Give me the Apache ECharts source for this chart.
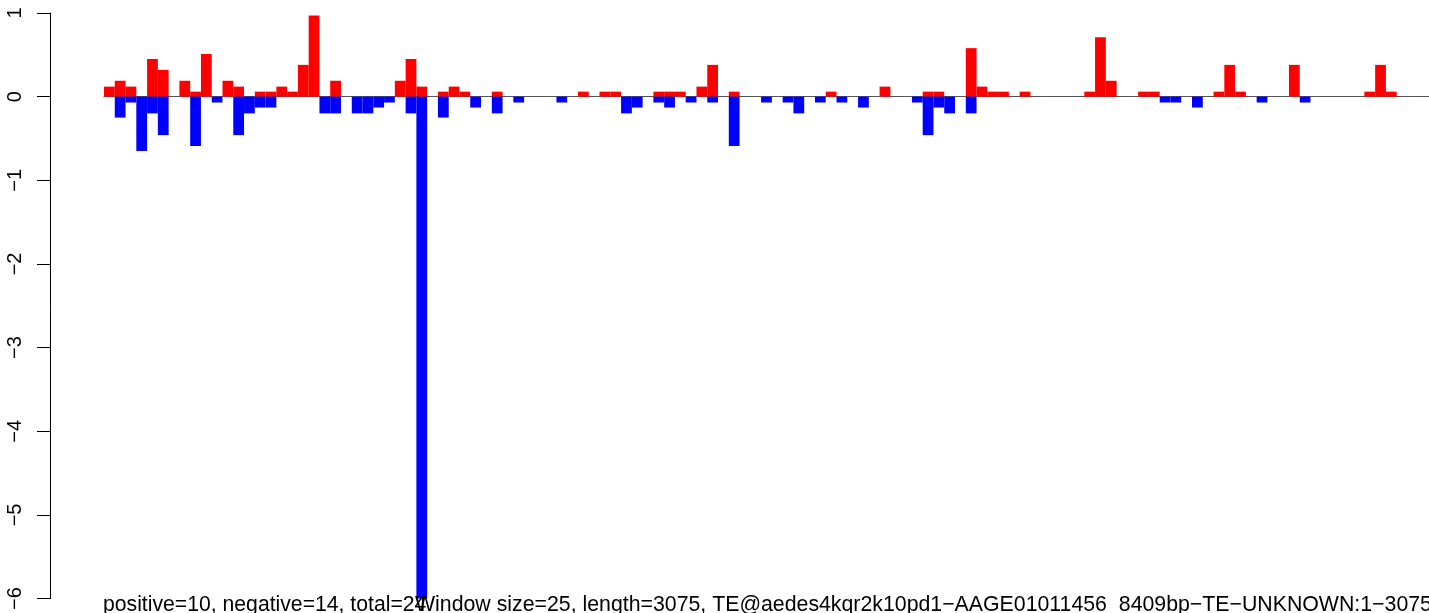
<!DOCTYPE html>
<html>
<head>
<meta charset="utf-8">
<script src="https://cdn.jsdelivr.net/npm/echarts@6/dist/echarts.min.js"></script>
<style>
html,body{margin:0;padding:0;background:#fff;}
#chart{width:1429px;height:613px;}
</style>
</head>
<body>
<div id="chart"></div>
<script>
// 123 windows of 25 bp over a 3075 bp sequence
const windows = Array.from({length: 123}, (_, i) => String(i + 1));

const positive = [
  0.12, 0.19, 0.12, 0, 0.45, 0.32, 0, 0.19, 0.06, 0.51,
  0, 0.19, 0.12, 0, 0.06, 0.06, 0.12, 0.06, 0.38, 0.97,
  0, 0.19, 0, 0, 0, 0, 0, 0.19, 0.45, 0.12,
  0, 0.06, 0.12, 0.06, 0, 0, 0.06, 0, 0, 0,
  0, 0, 0, 0, 0.06, 0, 0.06, 0.06, 0, 0,
  0, 0.06, 0.06, 0.06, 0, 0.12, 0.38, 0, 0.06, 0,
  0, 0, 0, 0, 0, 0, 0, 0.06, 0, 0,
  0, 0, 0.12, 0, 0, 0, 0.06, 0.06, 0, 0,
  0.58, 0.12, 0.06, 0.06, 0, 0.06, 0, 0, 0, 0,
  0, 0.06, 0.71, 0.19, 0, 0, 0.06, 0.06, 0, 0,
  0, 0, 0, 0.06, 0.38, 0.06, 0, 0, 0, 0,
  0.38, 0, 0, 0, 0, 0, 0, 0.06, 0.38, 0.06,
  0, 0, 0
];

const negative = [
  0, -0.25, -0.07, -0.65, -0.2, -0.46, 0, 0, -0.59, 0,
  -0.07, 0, -0.46, -0.2, -0.13, -0.13, 0, 0, 0, 0,
  -0.2, -0.2, 0, -0.2, -0.2, -0.13, -0.07, 0, -0.2, -6,
  0, -0.25, 0, 0, -0.13, 0, -0.2, 0, -0.07, 0,
  0, 0, -0.07, 0, 0, 0, 0, 0, -0.2, -0.13,
  0, -0.07, -0.13, 0, -0.07, 0, -0.07, 0, -0.59, 0,
  0, -0.07, 0, -0.07, -0.2, 0, -0.07, 0, -0.07, 0,
  -0.13, 0, 0, 0, 0, -0.07, -0.46, -0.13, -0.2, 0,
  -0.2, 0, 0, 0, 0, 0, 0, 0, 0, 0,
  0, 0, 0, 0, 0, 0, 0, 0, -0.07, -0.07,
  0, -0.13, 0, 0, 0, 0, 0, -0.07, 0, 0,
  0, -0.07, 0, 0, 0, 0, 0, 0, 0, 0,
  0, 0, 0
];

const yTicks = [-6, -5, -4, -3, -2, -1, 0, 1];
const captionLeft = 'positive=10, negative=14, total=24';
const captionRight = 'Window size=25, length=3075, TE@aedes4kqr2k10pd1\u2212AAGE01011456_8409bp\u2212TE\u2212UNKNOWN:1\u22123075';

const FONT = '"Liberation Sans", Arial, Helvetica, sans-serif';
const chart = echarts.init(document.getElementById('chart'), null, {renderer: 'canvas'});

chart.setOption({
  animation: false,
  backgroundColor: '#ffffff',
  grid: {left: 104, right: 0, top: 13, bottom: 12, containLabel: false},
  xAxis: {
    type: 'category',
    data: windows,
    boundaryGap: true,
    axisLine: {show: true, onZero: true, lineStyle: {color: '#555555', width: 1}},
    axisTick: {show: false},
    axisLabel: {show: false},
    splitLine: {show: false}
  },
  yAxis: {
    type: 'value',
    min: yTicks[0],
    max: yTicks[yTicks.length - 1],
    interval: 1,
    offset: 54,
    axisLine: {show: true, lineStyle: {color: '#000', width: 1}},
    axisTick: {show: true, length: 13, lineStyle: {color: '#000', width: 1}},
    splitLine: {show: false},
    axisLabel: {
      show: true,
      rotate: 90,
      margin: 25,
      fontSize: 20,
      fontFamily: FONT,
      color: '#000',
      formatter: v => (v < 0 ? '\u2212' + Math.abs(v) : String(v))
    }
  },
  series: [
    {
      type: 'bar',
      name: 'positive',
      data: positive,
      barGap: '-100%',
      barCategoryGap: '0%',
      itemStyle: {color: '#ff0000'},
      z: 2
    },
    {
      type: 'bar',
      name: 'negative',
      data: negative,
      barGap: '-100%',
      barCategoryGap: '0%',
      itemStyle: {color: '#0000ff'},
      z: 2
    }
  ],
  graphic: [
    {
      type: 'text', left: 103, top: 595, z: 100,
      style: {text: captionLeft, font: '21.2px ' + FONT, fill: '#000'}
    },
    {
      type: 'text', left: 415, top: 595, z: 100,
      style: {text: captionRight, font: '21.3px ' + FONT, fill: '#000'}
    }
  ]
});
</script>
</body>
</html>
